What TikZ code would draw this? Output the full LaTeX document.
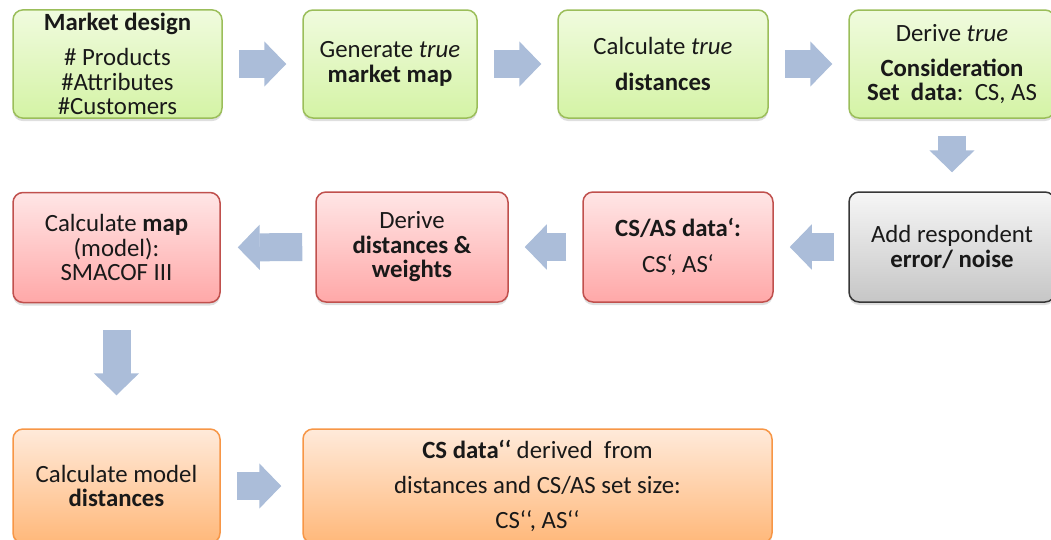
\documentclass[tikz,border=0pt]{standalone}
\usepackage{fontspec}
\setmainfont{Carlito}
\usetikzlibrary{arrows.meta,shadows}

\definecolor{textdark}{RGB}{25,25,25}
\definecolor{flowblue}{RGB}{171,189,217}
\definecolor{greenline}{RGB}{155,190,90}
\definecolor{greentop}{RGB}{240,251,222}
\definecolor{greenbot}{RGB}{212,243,165}
\definecolor{redline}{RGB}{192,80,77}
\definecolor{redtop}{RGB}{255,230,230}
\definecolor{redbot}{RGB}{255,168,168}
\definecolor{greyline}{RGB}{55,55,55}
\definecolor{greytop}{RGB}{246,246,246}
\definecolor{greybot}{RGB}{198,198,198}
\definecolor{orangeline}{RGB}{247,150,70}
\definecolor{orangetop}{RGB}{255,234,218}
\definecolor{orangebot}{RGB}{255,184,122}

\begin{document}
\begin{tikzpicture}[
  x=1pt, y=-1pt,
  box/.style={rectangle, rounded corners=10pt, line width=1.5pt, align=center, text=textdark,
    font=\fontsize{24.8}{24.5}\selectfont, minimum height=108pt,
    drop shadow={shadow xshift=0pt, shadow yshift=-3pt, opacity=0.25}},
  greenbox/.style={box, draw=greenline, top color=greentop, bottom color=greenbot},
  redbox/.style={box, draw=redline, top color=redtop, bottom color=redbot, minimum height=110pt},
  greybox/.style={box, draw=greyline, top color=greytop, bottom color=greybot, minimum height=110pt},
  orangebox/.style={box, draw=orangeline, top color=orangetop, bottom color=orangebot, minimum height=114pt},
  flow/.style={draw=flowblue, line width=28pt, -{Triangle[length=22pt, width=45pt, line width=1.5pt]},
    shorten <=16pt, shorten >=16pt}
]
\useasboundingbox (0,0) rectangle (1051,539);

% Row 1: true market
\node[greenbox, minimum width=209pt] (design) at (117.5,64) {
  \textbf{Market design}\\[10.5pt]
  \# Products\\
  \#Attributes\\
  \#Customers
};
\node[greenbox, minimum width=174pt] (truemap) at (390,64) {
  Generate \textit{true}\\
  \textbf{market map}
};
\node[greenbox, minimum width=210pt] (truedist) at (663,64) {
  Calculate \textit{true}\\[11pt]
  \textbf{distances}
};
\node[greenbox, minimum width=206pt] (truecs) at (952,64) {
  Derive \textit{true}\\[10.5pt]
  \textbf{Consideration}\\
  \textbf{Set\ \ data}:\ \ CS, AS
};

% Row 2: noisy data and model
\node[greybox, minimum width=206pt] (noise) at (952,247) {
  Add respondent\\
  \textbf{error/ noise}
};
\node[redbox, minimum width=190pt] (csdata) at (678,247) {
  \textbf{CS/AS data‘:}\\[12pt]
  CS‘, AS‘
};
\node[redbox, minimum width=192pt] (weights) at (412,247) {
  Derive\\
  \textbf{distances \&}\\
  \textbf{weights}
};
\node[redbox, minimum width=207pt] (smacof) at (116.5,247.5) {
  Calculate \textbf{map}\\
  (model):\\
  SMACOF III
};

% Row 3: model distances
\node[orangebox, minimum width=207pt] (modeldist) at (116.5,486) {
  Calculate model\\
  \textbf{distances}
};
\node[orangebox, minimum width=469pt] (csnew) at (537.5,486) {
  \textbf{CS data‘‘} derived\ \ from\\[10.5pt]
  distances and CS/AS set size:\\[10.5pt]
  CS‘‘, AS‘‘
};

% Arrows
\draw[flow] (design.east) -- (truemap.west);
\draw[flow] (truemap.east) -- (truedist.west);
\draw[flow] (truedist.east) -- (truecs.west);
\draw[flow, shorten <=17pt, shorten >=19pt] (truecs.south) -- (noise.north);
\draw[flow, shorten <=14pt] (noise.west) -- (csdata.east);
\draw[flow] (csdata.west) -- (weights.east);
\draw[flow, shorten <=13pt, shorten >=17pt] (weights.west) -- (smacof.east);
\draw[flow, shorten <=27pt, shorten >=33pt] (smacof.south) -- (modeldist.north);
\draw[flow, shorten >=21pt] (modeldist.east) -- (csnew.west);

\end{tikzpicture}
\end{document}
